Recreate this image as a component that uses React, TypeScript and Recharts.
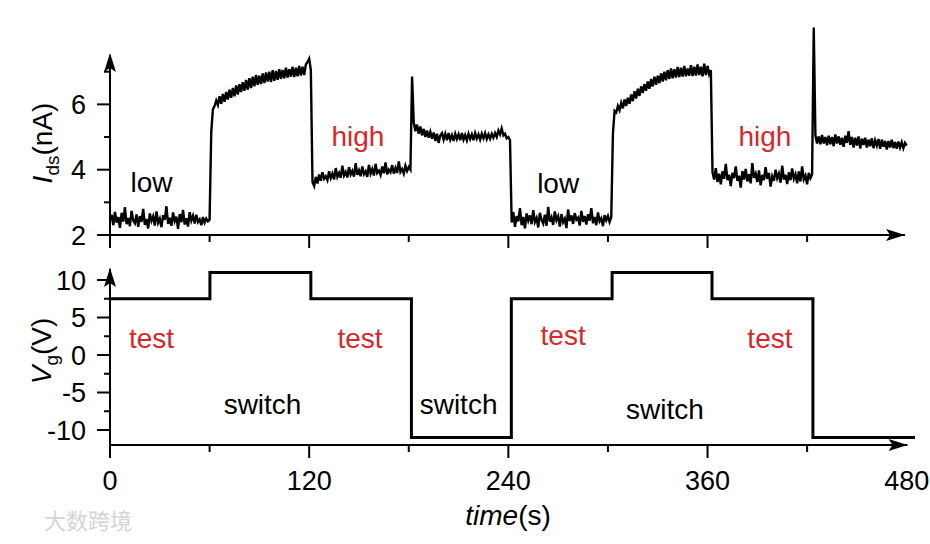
import { LineChart, Line, XAxis, YAxis, ReferenceLine, ReferenceDot } from 'recharts';

// I_ds samples, one per second, t = 0 … 480 s
const idsLow1 = [
  2.45, 2.62, 2.3, 2.71, 2.38, 2.55, 2.22, 2.68, 2.41, 2.85,
  2.33, 2.52, 2.27, 2.74, 2.44, 2.36, 2.63, 2.25, 2.58, 2.4,
  2.8, 2.31, 2.49, 2.2, 2.66, 2.43, 2.57, 2.29, 2.72, 2.37,
  2.5, 2.24, 2.61, 2.46, 2.88, 2.34, 2.53, 2.28, 2.69, 2.42,
  2.56, 2.19, 2.64, 2.39, 2.77, 2.32, 2.51, 2.26, 2.7, 2.44,
  2.59, 2.35, 2.62, 2.4, 2.48, 2.3, 2.55, 2.38, 2.5, 2.42,
  2.47,
];
const idsHigh1 = [
  5.15, 5.85, 5.95, 6.12, 5.98, 6.25, 6.02, 6.32, 6.08, 6.38,
  6.15, 6.45, 6.2, 6.5, 6.25, 6.58, 6.3, 6.62, 6.38, 6.68,
  6.42, 6.75, 6.45, 6.8, 6.5, 6.85, 6.55, 6.9, 6.6, 6.88,
  6.62, 6.95, 6.65, 6.98, 6.7, 7.0, 6.68, 7.05, 6.72, 7.02,
  6.75, 7.08, 6.78, 7.05, 6.8, 7.12, 6.82, 7.08, 6.85, 7.15,
  6.84, 7.12, 6.86, 7.18, 6.88, 7.15, 6.9, 7.22, 7.3, 7.4, 7.05,
];
const idsTest1 = [
  3.62, 3.5, 3.78, 3.58, 3.85, 3.66, 3.92, 3.72, 3.8, 3.68,
  3.95, 3.74, 3.88, 3.7, 4.05, 3.78, 3.9, 3.75, 4.12, 3.82,
  3.93, 3.76, 4.08, 3.85, 3.96, 3.79, 4.2, 3.84, 3.98, 3.8,
  4.1, 3.86, 3.95, 3.78, 4.15, 3.88, 4.02, 3.82, 4.18, 3.9,
  3.97, 3.84, 4.1, 3.89, 4.22, 3.86, 4.0, 3.92, 4.14, 3.88,
  4.05, 3.9, 4.25, 3.93, 4.02, 3.88, 4.12, 3.96, 4.08, 4.0,
];
const idsSwitch1 = [
  6.85, 5.45, 5.18, 5.38, 5.1, 5.32, 5.05, 5.25, 5.0, 5.2,
  4.98, 5.16, 4.95, 5.14, 4.88, 5.1, 4.82, 5.05, 5.12, 4.92,
  5.1, 4.9, 5.12, 4.92, 5.06, 4.88, 5.1, 4.94, 5.08, 4.9,
  5.12, 4.92, 5.06, 4.9, 5.1, 4.94, 5.08, 4.9, 5.12, 4.95,
  5.08, 4.92, 5.1, 4.96, 5.12, 4.94, 5.08, 4.95, 5.1, 4.98,
  5.12, 5.0, 5.2, 5.08, 5.26, 5.05, 5.1, 4.96, 5.0, 4.9,
];
const idsLow2 = [
  2.38, 2.7, 2.25, 2.58, 2.42, 2.82, 2.3, 2.55, 2.2, 2.66,
  2.44, 2.6, 2.33, 2.76, 2.4, 2.52, 2.23, 2.68, 2.46, 2.35,
  2.62, 2.28, 2.86, 2.41, 2.54, 2.31, 2.72, 2.45, 2.57, 2.26,
  2.64, 2.39, 2.5, 2.21, 2.78, 2.43, 2.6, 2.34, 2.67, 2.47,
  2.53, 2.29, 2.74, 2.4, 2.58, 2.32, 2.63, 2.44, 2.82, 2.36,
  2.55, 2.3, 2.69, 2.42, 2.51, 2.27, 2.61, 2.45, 2.58, 2.4,
  2.55,
];
const idsHigh2 = [
  5.1, 5.8, 5.75, 5.95, 5.82, 6.05, 5.88, 6.15, 5.95, 6.2,
  6.02, 6.3, 6.1, 6.4, 6.18, 6.48, 6.26, 6.55, 6.35, 6.62,
  6.42, 6.7, 6.48, 6.78, 6.55, 6.85, 6.6, 6.88, 6.65, 6.95,
  6.7, 7.0, 6.74, 7.05, 6.78, 7.1, 6.8, 7.08, 6.82, 7.15,
  6.84, 7.12, 6.85, 7.18, 6.86, 7.1, 6.88, 7.2, 6.87, 7.15,
  6.88, 7.22, 6.9, 7.15, 6.86, 7.25, 6.9, 7.18, 6.92, 7.05,
];
const idsTest2 = [
  3.92, 3.7, 4.05, 3.62, 3.88, 3.55, 3.95, 3.72, 4.18, 3.68,
  3.85, 3.5, 3.9, 3.74, 4.1, 3.66, 3.82, 3.45, 3.96, 3.7,
  4.02, 3.64, 3.86, 3.58, 4.2, 3.75, 3.88, 3.62, 3.98, 3.52,
  3.84, 3.68, 4.08, 3.72, 3.9, 3.48, 3.8, 3.66, 4.0, 3.74,
  3.88, 3.6, 4.12, 3.7, 3.85, 3.56, 3.92, 3.68, 4.04, 3.72,
  3.86, 3.58, 3.95, 3.64, 4.1, 3.7, 3.82, 3.55, 3.9, 3.74, 3.85,
];
const idsSwitch2 = [
  8.35, 5.05, 4.8, 5.02, 4.78, 5.06, 4.8, 5.0, 4.75, 5.04,
  4.78, 5.0, 4.72, 5.08, 4.8, 5.02, 4.76, 4.98, 4.7, 5.04,
  4.82, 5.18, 4.76, 5.0, 4.68, 4.98, 4.74, 5.02, 4.65, 4.95,
  4.76, 4.98, 4.68, 4.92, 4.72, 4.96, 4.66, 4.9, 4.74, 4.94,
  4.64, 4.92, 4.7, 4.88, 4.62, 4.88, 4.68, 4.92, 4.66, 4.85,
  4.64, 4.86, 4.68, 4.84, 4.66, 4.82, 4.74,
];

// gate voltage steps
const vgTime = [0, 60.2, 121, 181.6, 241.8, 302.5, 362.7, 423.5, 485];
const vgValues = [7.5, 11, 7.5, -11, 7.5, 11, 7.5, -11, -11];

const xTicks = [0, 60, 120, 180, 240, 300, 360, 420, 480];
const idsTicks = [2, 3, 4, 5, 6, 7];
const idsMajor = [2, 4, 6];
const vgTicks = [-10, -7.5, -5, -2.5, 0, 2.5, 5, 7.5, 10];
const vgMajor = [-10, -5, 0, 5, 10];

const topNoteText = ['low', 'high', 'low', 'high'];
const topNoteT = [25, 149.4, 270, 394.6];
const topNoteV = [3.32, 4.72, 3.29, 4.72];
const bottomNoteText = ['test', 'test', 'test', 'test', 'switch', 'switch', 'switch'];
const bottomNoteT = [25, 150.6, 273, 397.6, 91.9, 210, 334.3];
const bottomNoteV = [0.87, 0.87, 1.4, 1.0, -7.9, -7.9, -8.5];

const RED = '#d6282b';
const FONT = "'Liberation Sans', Arial, sans-serif";

const idsData = [
  ...idsLow1, ...idsHigh1, ...idsTest1, ...idsSwitch1,
  ...idsLow2, ...idsHigh2, ...idsTest2, ...idsSwitch2,
].map((v, i) => ({ t: i, ids: v }));
const vgData = vgTime.map((t, i) => ({ t, vg: vgValues[i] }));

function XTick(props: any) {
  const { x, y, payload, showLabel } = props;
  const v = payload.value;
  const major = v % 120 === 0;
  const len = v === 480 ? 0 : major ? 13 : 7;
  return (
    <g>
      {len > 0 && <line x1={x} x2={x} y1={y} y2={y + len} stroke="#000" strokeWidth={2} />}
      {showLabel && major && (
        <text x={x} y={y + 45} textAnchor="middle" fontSize={27} fontFamily={FONT} fill="#000">
          {v}
        </text>
      )}
    </g>
  );
}

function YTick(props: any) {
  const { x, y, payload, major } = props;
  const v = payload.value;
  const isMajor = major.includes(v);
  const len = isMajor ? 13 : 6;
  return (
    <g>
      <line x1={x - len} x2={x} y1={y} y2={y} stroke="#000" strokeWidth={2} />
      {isMajor && (
        <text x={x - 24} y={y + 9.5} textAnchor="end" fontSize={27} fontFamily={FONT} fill="#000">
          {v}
        </text>
      )}
    </g>
  );
}

const ArrowUp = ({ cx, cy }: any) => (
  <path d={`M${cx},${cy} L${cx - 6},${cy + 19} L${cx},${cy + 15} L${cx + 6},${cy + 19} Z`} fill="#000" />
);
const ArrowRight = ({ cx, cy }: any) => (
  <path d={`M${cx},${cy} L${cx - 19},${cy - 6} L${cx - 15},${cy} L${cx - 19},${cy + 6} Z`} fill="#000" />
);
const Note = ({ cx, cy, text, color }: any) => (
  <text x={cx} y={cy} textAnchor="middle" fontSize={28} fontFamily={FONT} fill={color}>
    {text}
  </text>
);

export default function App() {
  return (
    <div style={{ position: 'absolute', left: 0, top: 0, width: 930, height: 544, background: '#fff', fontFamily: FONT }}>
      <div style={{ position: 'absolute', left: 0, top: 0 }}>
        <LineChart width={930} height={260} data={idsData} margin={{ top: 26, right: 15, bottom: 0, left: 0 }}>
          <XAxis
            dataKey="t"
            type="number"
            domain={[0, 485]}
            ticks={xTicks}
            interval={0}
            tick={<XTick showLabel={false} />}
            tickLine={false}
            axisLine={false}
            tickSize={0}
            tickMargin={0}
            height={25}
          />
          <YAxis
            type="number"
            domain={[2, 8.4]}
            ticks={idsTicks}
            interval={0}
            tick={<YTick major={idsMajor} />}
            tickLine={false}
            axisLine={false}
            tickSize={0}
            tickMargin={0}
            width={110}
          />
          <ReferenceLine segment={[{ x: 0, y: 2 }, { x: 479, y: 2 }]} stroke="#000" strokeWidth={2} />
          <ReferenceLine segment={[{ x: 0, y: 2 }, { x: 0, y: 7.5 }]} stroke="#000" strokeWidth={2} />
          <Line
            type="linear"
            dataKey="ids"
            stroke="#000"
            strokeWidth={2.4}
            strokeLinejoin="miter"
            dot={false}
            isAnimationActive={false}
          />
          <ReferenceDot x={0} y={7.57} shape={<ArrowUp />} />
          <ReferenceDot x={479} y={2} shape={<ArrowRight />} />
          {topNoteText.map((txt, i) => (
            <ReferenceDot
              key={'tn' + i}
              x={topNoteT[i]}
              y={topNoteV[i]}
              shape={<Note text={txt} color={txt === 'high' ? RED : '#000'} />}
            />
          ))}
        </LineChart>
      </div>
      <div style={{ position: 'absolute', left: 0, top: 250 }}>
        <LineChart width={930} height={294} data={vgData} margin={{ top: 15, right: 15, bottom: 0, left: 0 }}>
          <XAxis
            dataKey="t"
            type="number"
            domain={[0, 485]}
            ticks={xTicks}
            interval={0}
            tick={<XTick showLabel />}
            tickLine={false}
            axisLine={false}
            tickSize={0}
            tickMargin={0}
            height={99}
          />
          <YAxis
            type="number"
            domain={[-12, 12]}
            ticks={vgTicks}
            interval={0}
            tick={<YTick major={vgMajor} />}
            tickLine={false}
            axisLine={false}
            tickSize={0}
            tickMargin={0}
            width={110}
          />
          <ReferenceLine segment={[{ x: 0, y: -12 }, { x: 480.5, y: -12 }]} stroke="#000" strokeWidth={2} />
          <ReferenceLine segment={[{ x: 0, y: -12 }, { x: 0, y: 11.5 }]} stroke="#000" strokeWidth={2} />
          <Line
            type="stepAfter"
            dataKey="vg"
            stroke="#000"
            strokeWidth={3}
            dot={false}
            isAnimationActive={false}
          />
          <ReferenceDot x={0} y={11.6} shape={<ArrowUp />} />
          <ReferenceDot x={480.5} y={-12} shape={<ArrowRight />} />
          {bottomNoteText.map((txt, i) => (
            <ReferenceDot
              key={'bn' + i}
              x={bottomNoteT[i]}
              y={bottomNoteV[i]}
              shape={<Note text={txt} color={txt === 'test' ? RED : '#000'} />}
            />
          ))}
        </LineChart>
      </div>
      <svg width={930} height={544} style={{ position: 'absolute', left: 0, top: 0, pointerEvents: 'none' }}>
        <text transform="translate(52,143) rotate(-90)" textAnchor="middle" fontSize={28} fontFamily={FONT} fill="#000">
          <tspan fontStyle="italic">I</tspan>
          <tspan fontSize={19} dy={7}>ds</tspan>
          <tspan dy={-7}>(nA)</tspan>
        </text>
        <text transform="translate(51,351) rotate(-90)" textAnchor="middle" fontSize={28} fontFamily={FONT} fill="#000">
          <tspan fontStyle="italic">V</tspan>
          <tspan fontSize={19} dy={7}>g</tspan>
          <tspan dy={-7}>(V)</tspan>
        </text>
        <text x={508} y={525} textAnchor="middle" fontSize={28} fontFamily={FONT} fill="#000">
          <tspan fontStyle="italic">time</tspan>
          <tspan>(s)</tspan>
        </text>
        <text x={44} y={529} fontSize={22} fontFamily="'Noto Sans CJK SC', sans-serif" fill="#d4d4d4">
          大数跨境
        </text>
      </svg>
    </div>
  );
}
